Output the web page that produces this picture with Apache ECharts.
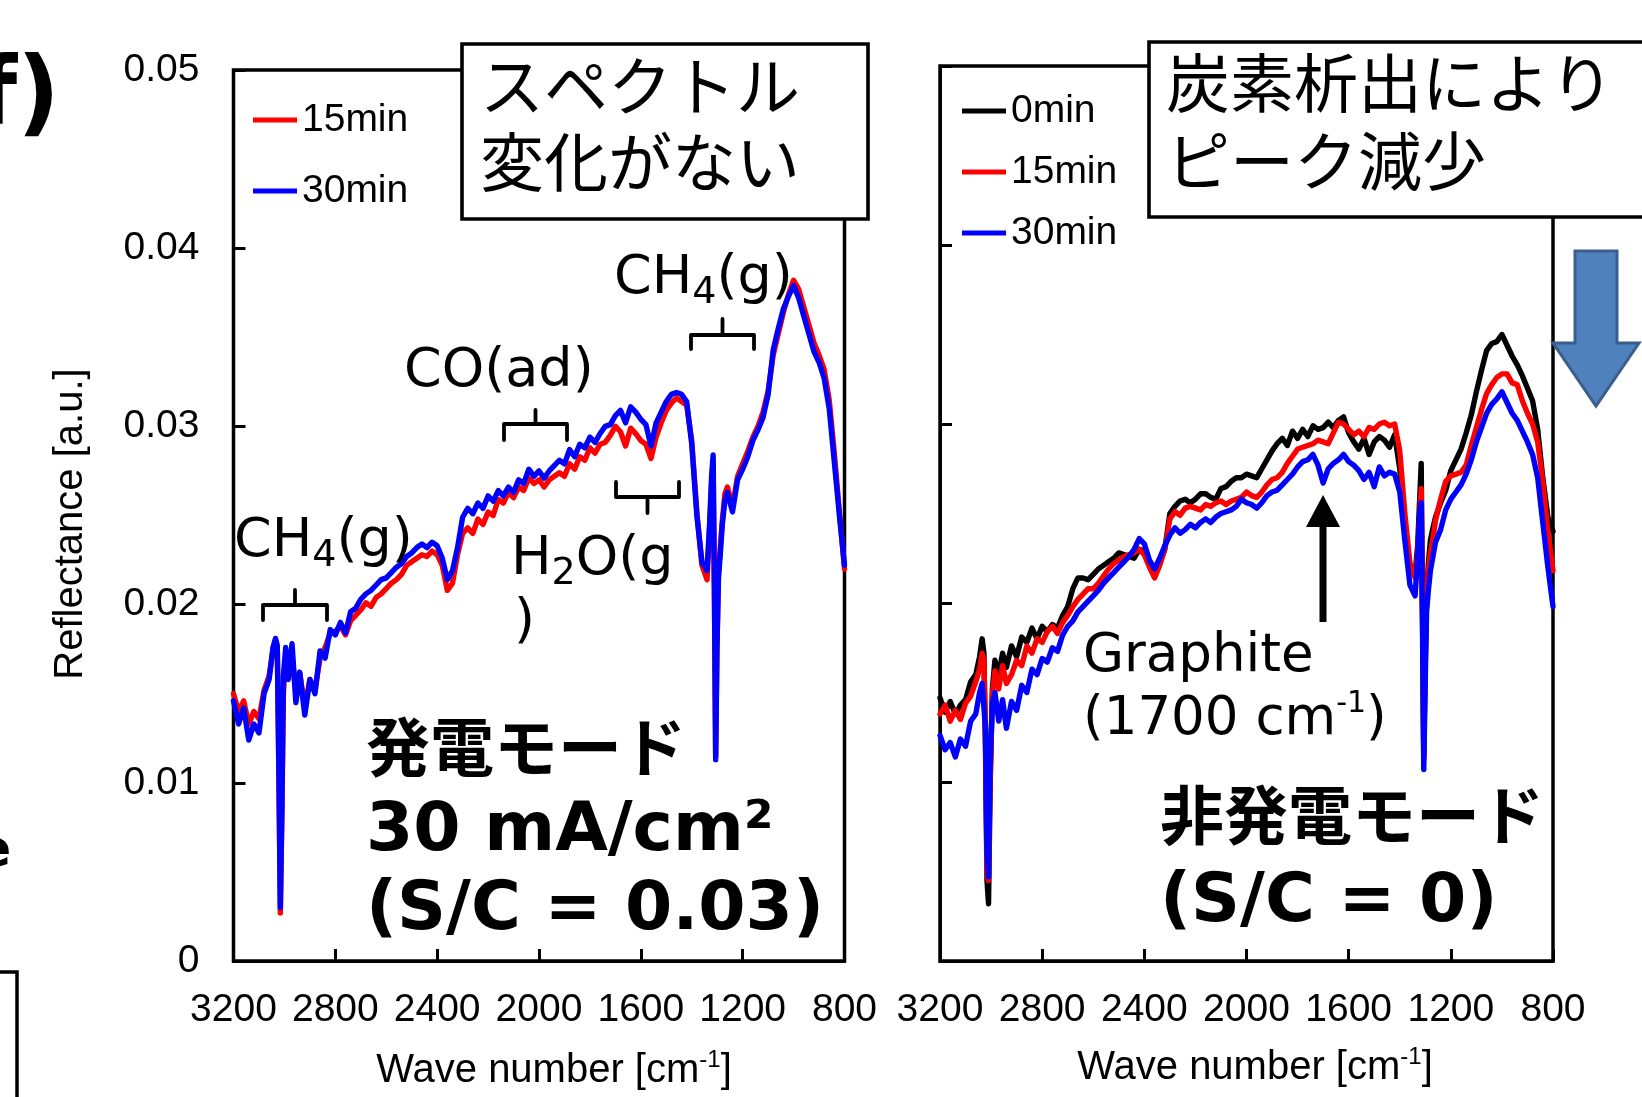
<!DOCTYPE html>
<html>
<head>
<meta charset="utf-8">
<script src="https://cdn.jsdelivr.net/npm/echarts@6/dist/echarts.min.js"></script>
<style>
  html, body { margin: 0; padding: 0; background: #fff; }
  #chart { width: 1642px; height: 1097px; }
</style>
</head>
<body>
<div id="chart"></div>
<script>
// Wave numbers [cm-1] shared by every spectrum (denser around the sharp CH4 bands)
const waveNumbers = [
  3200,3180,3160,3140,3120,3100,3080,3060,3045,3035,
  3028,3022,3016,3010,3004,2995,2985,2970,2955,2940,
  2920,2900,2880,2860,2840,2820,2800,2780,2760,2740,
  2720,2700,2680,2660,2640,2620,2600,2580,2560,2540,
  2520,2500,2480,2460,2440,2420,2400,2380,2360,2340,
  2320,2300,2280,2260,2240,2220,2200,2180,2160,2140,
  2120,2100,2080,2060,2040,2020,2000,1980,1960,1940,
  1920,1900,1880,1860,1840,1820,1800,1780,1760,1740,
  1720,1700,1680,1660,1640,1620,1600,1580,1560,1540,
  1520,1500,1480,1460,1440,1420,1400,1380,1360,1340,
  1330,1322,1316,1311,1306,1301,1295,1288,1280,1270,
  1260,1240,1220,1200,1180,1160,1140,1120,1100,1080,
  1060,1040,1020,1000,980,960,940,920,900,880,
  860,840,820,800
];

// Power-generation mode, 30 mA/cm2 (S/C = 0.03)
const genMode15min = [
  0.0150,0.0140,0.0146,0.0133,0.0140,0.0136,0.0152,0.0160,0.0174,0.0180,
  0.0176,0.0108,0.0027,0.0082,0.0150,0.0170,0.0160,0.0172,0.0150,0.0162,
  0.0142,0.0158,0.0152,0.0170,0.0176,0.0184,0.0185,0.0188,0.0183,0.0191,
  0.0194,0.0197,0.0201,0.0199,0.0204,0.0206,0.0209,0.0212,0.0214,0.0217,
  0.0222,0.0224,0.0226,0.0228,0.0227,0.0230,0.0228,0.0222,0.0208,0.0212,
  0.0228,0.0240,0.0243,0.0240,0.0248,0.0245,0.0252,0.0250,0.0259,0.0257,
  0.0263,0.0260,0.0266,0.0264,0.0271,0.0268,0.0270,0.0266,0.0270,0.0272,
  0.0274,0.0272,0.0279,0.0276,0.0283,0.0281,0.0288,0.0285,0.0290,0.0291,
  0.0295,0.0300,0.0297,0.0289,0.0299,0.0296,0.0292,0.0290,0.0282,0.0294,
  0.0302,0.0309,0.0313,0.0316,0.0314,0.0312,0.0292,0.0252,0.0222,0.0214,
  0.0242,0.0268,0.0280,0.0205,0.0115,0.0178,0.0218,0.0232,0.0247,0.0262,
  0.0266,0.0255,0.0272,0.0279,0.0286,0.0294,0.0300,0.0308,0.0320,0.0340,
  0.0352,0.0364,0.0374,0.0382,0.0377,0.0367,0.0357,0.0347,0.0340,0.0332,
  0.0315,0.0285,0.0252,0.0220
];
const genMode30min = [
  0.0146,0.0133,0.0142,0.0124,0.0133,0.0128,0.0150,0.0158,0.0176,0.0181,
  0.0177,0.0110,0.0030,0.0085,0.0160,0.0176,0.0158,0.0178,0.0145,0.0162,
  0.0138,0.0158,0.0150,0.0174,0.0170,0.0186,0.0183,0.0190,0.0184,0.0196,
  0.0198,0.0203,0.0206,0.0208,0.0211,0.0214,0.0215,0.0218,0.0221,0.0223,
  0.0227,0.0229,0.0232,0.0234,0.0232,0.0235,0.0233,0.0226,0.0214,0.0219,
  0.0232,0.0249,0.0254,0.0251,0.0257,0.0254,0.0261,0.0258,0.0264,0.0261,
  0.0266,0.0263,0.0270,0.0268,0.0276,0.0272,0.0275,0.0271,0.0275,0.0278,
  0.0281,0.0279,0.0287,0.0283,0.0290,0.0288,0.0294,0.0291,0.0296,0.0300,
  0.0301,0.0306,0.0309,0.0302,0.0311,0.0308,0.0304,0.0301,0.0289,0.0302,
  0.0308,0.0314,0.0318,0.0319,0.0318,0.0314,0.0290,0.0250,0.0224,0.0219,
  0.0245,0.0272,0.0284,0.0210,0.0113,0.0175,0.0215,0.0228,0.0245,0.0258,
  0.0263,0.0252,0.0270,0.0276,0.0283,0.0292,0.0298,0.0305,0.0318,0.0343,
  0.0355,0.0366,0.0373,0.0379,0.0372,0.0362,0.0352,0.0342,0.0336,0.0327,
  0.0310,0.0280,0.0250,0.0222
];

// Open-circuit mode (S/C = 0)
const openCircuit0min = [
  0.0147,0.0139,0.0145,0.0138,0.0143,0.0146,0.0156,0.0160,0.0170,0.0180,
  0.0172,0.0120,0.0045,0.0032,0.0095,0.0152,0.0168,0.0160,0.0172,0.0164,
  0.0176,0.0170,0.0181,0.0178,0.0186,0.0180,0.0187,0.0184,0.0188,0.0186,
  0.0193,0.0198,0.0208,0.0214,0.0214,0.0213,0.0216,0.0219,0.0221,0.0223,
  0.0225,0.0228,0.0227,0.0226,0.0225,0.0230,0.0229,0.0223,0.0219,0.0222,
  0.0230,0.0250,0.0254,0.0257,0.0258,0.0256,0.0258,0.0261,0.0261,0.0259,
  0.0258,0.0264,0.0265,0.0268,0.0270,0.0270,0.0272,0.0271,0.0270,0.0275,
  0.0280,0.0285,0.0289,0.0292,0.0288,0.0296,0.0292,0.0297,0.0293,0.0299,
  0.0297,0.0298,0.0301,0.0298,0.0302,0.0304,0.0295,0.0290,0.0286,0.0292,
  0.0283,0.0290,0.0293,0.0291,0.0287,0.0294,0.0275,0.0243,0.0221,0.0216,
  0.0232,0.0258,0.0278,0.0200,0.0115,0.0165,0.0205,0.0222,0.0235,0.0242,
  0.0248,0.0256,0.0263,0.0274,0.0280,0.0286,0.0295,0.0305,0.0318,0.0330,
  0.0341,0.0345,0.0346,0.0350,0.0344,0.0338,0.0333,0.0327,0.0320,0.0313,
  0.0297,0.0270,0.0248,0.0240
];
const openCircuit15min = [
  0.0138,0.0143,0.0134,0.0140,0.0135,0.0144,0.0148,0.0156,0.0163,0.0172,
  0.0168,0.0125,0.0050,0.0045,0.0100,0.0148,0.0162,0.0152,0.0165,0.0155,
  0.0160,0.0168,0.0165,0.0176,0.0172,0.0180,0.0178,0.0184,0.0187,0.0183,
  0.0189,0.0193,0.0198,0.0202,0.0205,0.0208,0.0208,0.0211,0.0215,0.0219,
  0.0222,0.0224,0.0226,0.0227,0.0228,0.0230,0.0227,0.0220,0.0214,0.0221,
  0.0230,0.0247,0.0251,0.0249,0.0253,0.0254,0.0253,0.0252,0.0255,0.0254,
  0.0256,0.0257,0.0255,0.0257,0.0258,0.0259,0.0262,0.0260,0.0259,0.0262,
  0.0266,0.0269,0.0270,0.0273,0.0278,0.0282,0.0286,0.0287,0.0288,0.0289,
  0.0291,0.0290,0.0289,0.0295,0.0301,0.0300,0.0297,0.0294,0.0296,0.0293,
  0.0298,0.0297,0.0300,0.0301,0.0299,0.0300,0.0285,0.0250,0.0222,0.0214,
  0.0228,0.0248,0.0264,0.0195,0.0113,0.0160,0.0200,0.0218,0.0228,0.0236,
  0.0246,0.0258,0.0268,0.0271,0.0272,0.0273,0.0277,0.0288,0.0298,0.0308,
  0.0317,0.0322,0.0326,0.0328,0.0328,0.0323,0.0322,0.0313,0.0306,0.0300,
  0.0290,0.0268,0.0240,0.0218
];
const openCircuit30min = [
  0.0126,0.0118,0.0122,0.0114,0.0124,0.0120,0.0134,0.0138,0.0150,0.0155,
  0.0154,0.0130,0.0060,0.0047,0.0110,0.0144,0.0150,0.0134,0.0146,0.0130,
  0.0145,0.0140,0.0154,0.0150,0.0163,0.0160,0.0169,0.0167,0.0175,0.0173,
  0.0182,0.0187,0.0190,0.0195,0.0198,0.0201,0.0204,0.0207,0.0211,0.0214,
  0.0217,0.0220,0.0223,0.0226,0.0230,0.0236,0.0233,0.0224,0.0219,0.0225,
  0.0232,0.0238,0.0242,0.0239,0.0241,0.0244,0.0242,0.0245,0.0247,0.0245,
  0.0248,0.0250,0.0251,0.0252,0.0254,0.0258,0.0256,0.0255,0.0253,0.0256,
  0.0260,0.0262,0.0263,0.0266,0.0269,0.0272,0.0276,0.0279,0.0280,0.0283,
  0.0277,0.0267,0.0275,0.0278,0.0280,0.0283,0.0279,0.0277,0.0274,0.0269,
  0.0273,0.0265,0.0276,0.0271,0.0273,0.0272,0.0262,0.0235,0.0210,0.0204,
  0.0225,0.0250,0.0256,0.0185,0.0107,0.0150,0.0195,0.0207,0.0218,0.0226,
  0.0234,0.0241,0.0252,0.0258,0.0262,0.0266,0.0272,0.0280,0.0290,0.0298,
  0.0306,0.0311,0.0314,0.0318,0.0312,0.0306,0.0302,0.0296,0.0290,0.0283,
  0.0270,0.0245,0.0220,0.0198
];

const leftLegend = ['15min', '30min'];
const rightLegend = ['0min', '15min', '30min'];
const yTickLabels = ['0', '0.01', '0.02', '0.03', '0.04', '0.05'];

const LATIN = '"Liberation Sans", Arial, sans-serif';
const VERD = '"DejaVu Sans", Verdana, sans-serif';
const JP = '"Noto Sans CJK JP", sans-serif';

function pairs(vals) { return waveNumbers.map((w, i) => [w, vals[i]]); }

function lineSeries(name, vals, color, idx) {
  return {
    name: name, type: 'line', xAxisIndex: idx, yAxisIndex: idx,
    data: pairs(vals), showSymbol: false, symbol: 'none', silent: true,
    lineStyle: { color: color, width: 5.4, join: 'round', cap: 'round' },
    itemStyle: { color: color },
    emphasis: { disabled: true }
  };
}

function xAxisDef(gridIndex) {
  return {
    gridIndex: gridIndex, type: 'value', inverse: true,
    min: 800, max: 3200, interval: 400,
    axisLine: { show: true, lineStyle: { color: '#000', width: 3 } },
    axisTick: { show: true, inside: true, length: 12, lineStyle: { color: '#000', width: 3 } },
    axisLabel: { show: true, color: '#000', fontSize: 39, fontFamily: LATIN, margin: 30,
      formatter: v => String(Math.round(v)) },
    splitLine: { show: false }
  };
}
function yAxisDef(gridIndex, showLabels) {
  return {
    gridIndex: gridIndex, type: 'value', min: 0, max: 0.05, interval: 0.01,
    axisLine: { show: true, lineStyle: { color: '#000', width: 3 } },
    axisTick: { show: true, inside: true, length: 12, lineStyle: { color: '#000', width: 3 } },
    axisLabel: {
      show: showLabels, color: '#000', fontSize: 39, fontFamily: LATIN, margin: 34,
      formatter: v => yTickLabels[Math.round(v * 100)]
    },
    splitLine: { show: false }
  };
}

function txt(text, x, y, size, opts) {
  opts = opts || {};
  return {
    type: 'text', z: 60,
    style: Object.assign({
      text: text, x: x, y: y, fill: '#000',
      fontSize: size, fontFamily: opts.family || VERD, fontWeight: opts.weight || 'normal',
      textAlign: opts.align || 'left', textVerticalAlign: 'middle'
    }, opts.style || {}),
    rotation: opts.rotation || 0
  };
}

// curly-ish bracket: ends bent toward the curve, nub toward the label
function bracket(x1, x2, yh, yEnd, yNub) {
  const xm = (x1 + x2) / 2;
  return [
    { type: 'polyline', z: 60, shape: { points: [[x1, yEnd], [x1, yh], [x2, yh], [x2, yEnd]] },
      style: { stroke: '#000', lineWidth: 3.8, fill: null, lineJoin: 'round', lineCap: 'round' } },
    { type: 'line', z: 60, shape: { x1: xm, y1: yh, x2: xm, y2: yNub },
      style: { stroke: '#000', lineWidth: 3.8, lineCap: 'round' } }
  ];
}

const subRich = {
  n: { fontSize: 54, fontFamily: VERD, lineHeight: 64, verticalAlign: 'bottom' },
  s: { fontSize: 38, fontFamily: VERD, lineHeight: 38, verticalAlign: 'bottom', padding: [0, 0, -6, 0] }
};
const supRich = {
  n: { fontSize: 53, fontFamily: VERD, lineHeight: 62 },
  p: { fontSize: 30, fontFamily: VERD, lineHeight: 30, verticalAlign: 'top' }
};
const axisTitleRich = {
  n: { fontSize: 40, fontFamily: LATIN, lineHeight: 46 },
  p: { fontSize: 24, fontFamily: LATIN, lineHeight: 24, verticalAlign: 'top' }
};

const graphics = [
  // pieces of the neighbouring panels at the left edge
  txt('f)', 60, 100, 94, { family: VERD, weight: 'bold', align: 'right' }),
  txt('e', -24, 852, 52, { family: VERD, weight: 'bold' }),
  { type: 'polyline', z: 60, shape: { points: [[-5, 972], [17, 972], [17, 1110]] },
    style: { stroke: '#000', lineWidth: 3.5, fill: null } },

  // axis titles
  { type: 'text', z: 60, style: { text: '{n|Wave number [cm}{p|-1}{n|]}', rich: axisTitleRich,
      x: 554, y: 1071, textAlign: 'center', textVerticalAlign: 'middle', fill: '#000' } },
  { type: 'text', z: 60, style: { text: '{n|Wave number [cm}{p|-1}{n|]}', rich: axisTitleRich,
      x: 1255, y: 1068, textAlign: 'center', textVerticalAlign: 'middle', fill: '#000' } },
  { type: 'text', z: 60, x: 71, y: 524, rotation: Math.PI / 2,
    style: { text: 'Reflectance [a.u.]', x: 0, y: 0, fontSize: 40, fontFamily: LATIN,
      textAlign: 'center', textVerticalAlign: 'middle', fill: '#000' } },

  // left panel: comment box
  { type: 'rect', z: 55, shape: { x: 462, y: 44, width: 406, height: 175 },
    style: { fill: '#fff', stroke: '#000', lineWidth: 3.6 } },
  txt('スペクトル', 480, 86, 64, { family: JP }),
  txt('変化がない', 480, 162, 64, { family: JP }),

  // left panel: band labels
  { type: 'text', z: 60, style: { text: '{n|CH}{s|4}{n|(g)}', rich: subRich, x: 234, y: 537,
      textAlign: 'left', textVerticalAlign: 'middle', fill: '#000' } },
  txt('CO(ad)', 404, 372, 54),
  { type: 'text', z: 60, style: { text: '{n|H}{s|2}{n|O(g}', rich: subRich, x: 511, y: 555,
      textAlign: 'left', textVerticalAlign: 'middle', fill: '#000' } },
  txt(')', 514, 623, 54),
  { type: 'text', z: 60, style: { text: '{n|CH}{s|4}{n|(g)}', rich: subRich, x: 614, y: 274,
      textAlign: 'left', textVerticalAlign: 'middle', fill: '#000' } },
  ...bracket(263, 327, 605, 620, 590),
  ...bracket(504, 567, 424, 440, 410),
  ...bracket(616, 679, 497, 482, 513),
  ...bracket(691, 754, 335, 349, 319),

  // left panel: operating condition
  txt('発電モード', 366, 747, 64, { family: JP, weight: 'bold' }),
  txt('30 mA/cm²', 366, 832, 68, { family: VERD, weight: 'bold' }),
  txt('(S/C = 0.03)', 366, 911, 68, { family: VERD, weight: 'bold' }),

  // right panel: comment box and trend arrow
  { type: 'rect', z: 55, shape: { x: 1149, y: 42, width: 520, height: 175 },
    style: { fill: '#fff', stroke: '#000', lineWidth: 3.6 } },
  txt('炭素析出により', 1166, 83, 64, { family: JP }),
  txt('ピーク減少', 1166, 161, 64, { family: JP }),
  { type: 'polygon', z: 60,
    shape: { points: [[1575, 251], [1617, 251], [1617, 343], [1639, 343], [1596, 406], [1553, 343], [1575, 343]] },
    style: { fill: '#4f81bd', stroke: '#3a5f8e', lineWidth: 3 } },

  // right panel: graphite band marker
  { type: 'line', z: 60, shape: { x1: 1323, y1: 622, x2: 1323, y2: 520 },
    style: { stroke: '#000', lineWidth: 7 } },
  { type: 'polygon', z: 60, shape: { points: [[1306, 527], [1340, 527], [1323, 495]] },
    style: { fill: '#000' } },
  txt('Graphite', 1083, 657, 53),
  { type: 'text', z: 60, style: { text: '{n|(1700 cm}{p|-1}{n|)}', rich: supRich, x: 1083, y: 720,
      textAlign: 'left', textVerticalAlign: 'middle', fill: '#000' } },

  // right panel: operating condition
  txt('非発電モード', 1160, 815, 64, { family: JP, weight: 'bold' }),
  txt('(S/C = 0)', 1160, 903, 68, { family: VERD, weight: 'bold' })
];

const option = {
  animation: false,
  backgroundColor: '#fff',
  grid: [
    { left: 233.5, top: 70, width: 611, height: 891, show: true, borderColor: '#000', borderWidth: 3.5, backgroundColor: 'transparent' },
    { left: 940, top: 66, width: 613, height: 895, show: true, borderColor: '#000', borderWidth: 3.5, backgroundColor: 'transparent' }
  ],
  xAxis: [xAxisDef(0), xAxisDef(1)],
  yAxis: [yAxisDef(0, true), yAxisDef(1, false)],
  legend: [
    { data: leftLegend, orient: 'vertical', left: 253, top: 100, padding: 0, itemGap: 31,
      icon: 'rect', itemWidth: 44, itemHeight: 5, selectedMode: false,
      textStyle: { color: '#000', fontSize: 39, fontFamily: LATIN, lineHeight: 40 } },
    { data: rightLegend, orient: 'vertical', left: 962, top: 91, padding: 0, itemGap: 21,
      icon: 'rect', itemWidth: 44, itemHeight: 5, selectedMode: false,
      textStyle: { color: '#000', fontSize: 39, fontFamily: LATIN, lineHeight: 40 } }
  ],
  series: [
    lineSeries('15min', genMode15min, '#ff0000', 0),
    lineSeries('30min', genMode30min, '#0000ff', 0),
    lineSeries('0min', openCircuit0min, '#000000', 1),
    lineSeries('15min', openCircuit15min, '#ff0000', 1),
    lineSeries('30min', openCircuit30min, '#0000ff', 1)
  ],
  graphic: graphics
};

const chart = echarts.init(document.getElementById('chart'), null, { renderer: 'canvas' });
chart.setOption(option);
</script>
</body>
</html>
